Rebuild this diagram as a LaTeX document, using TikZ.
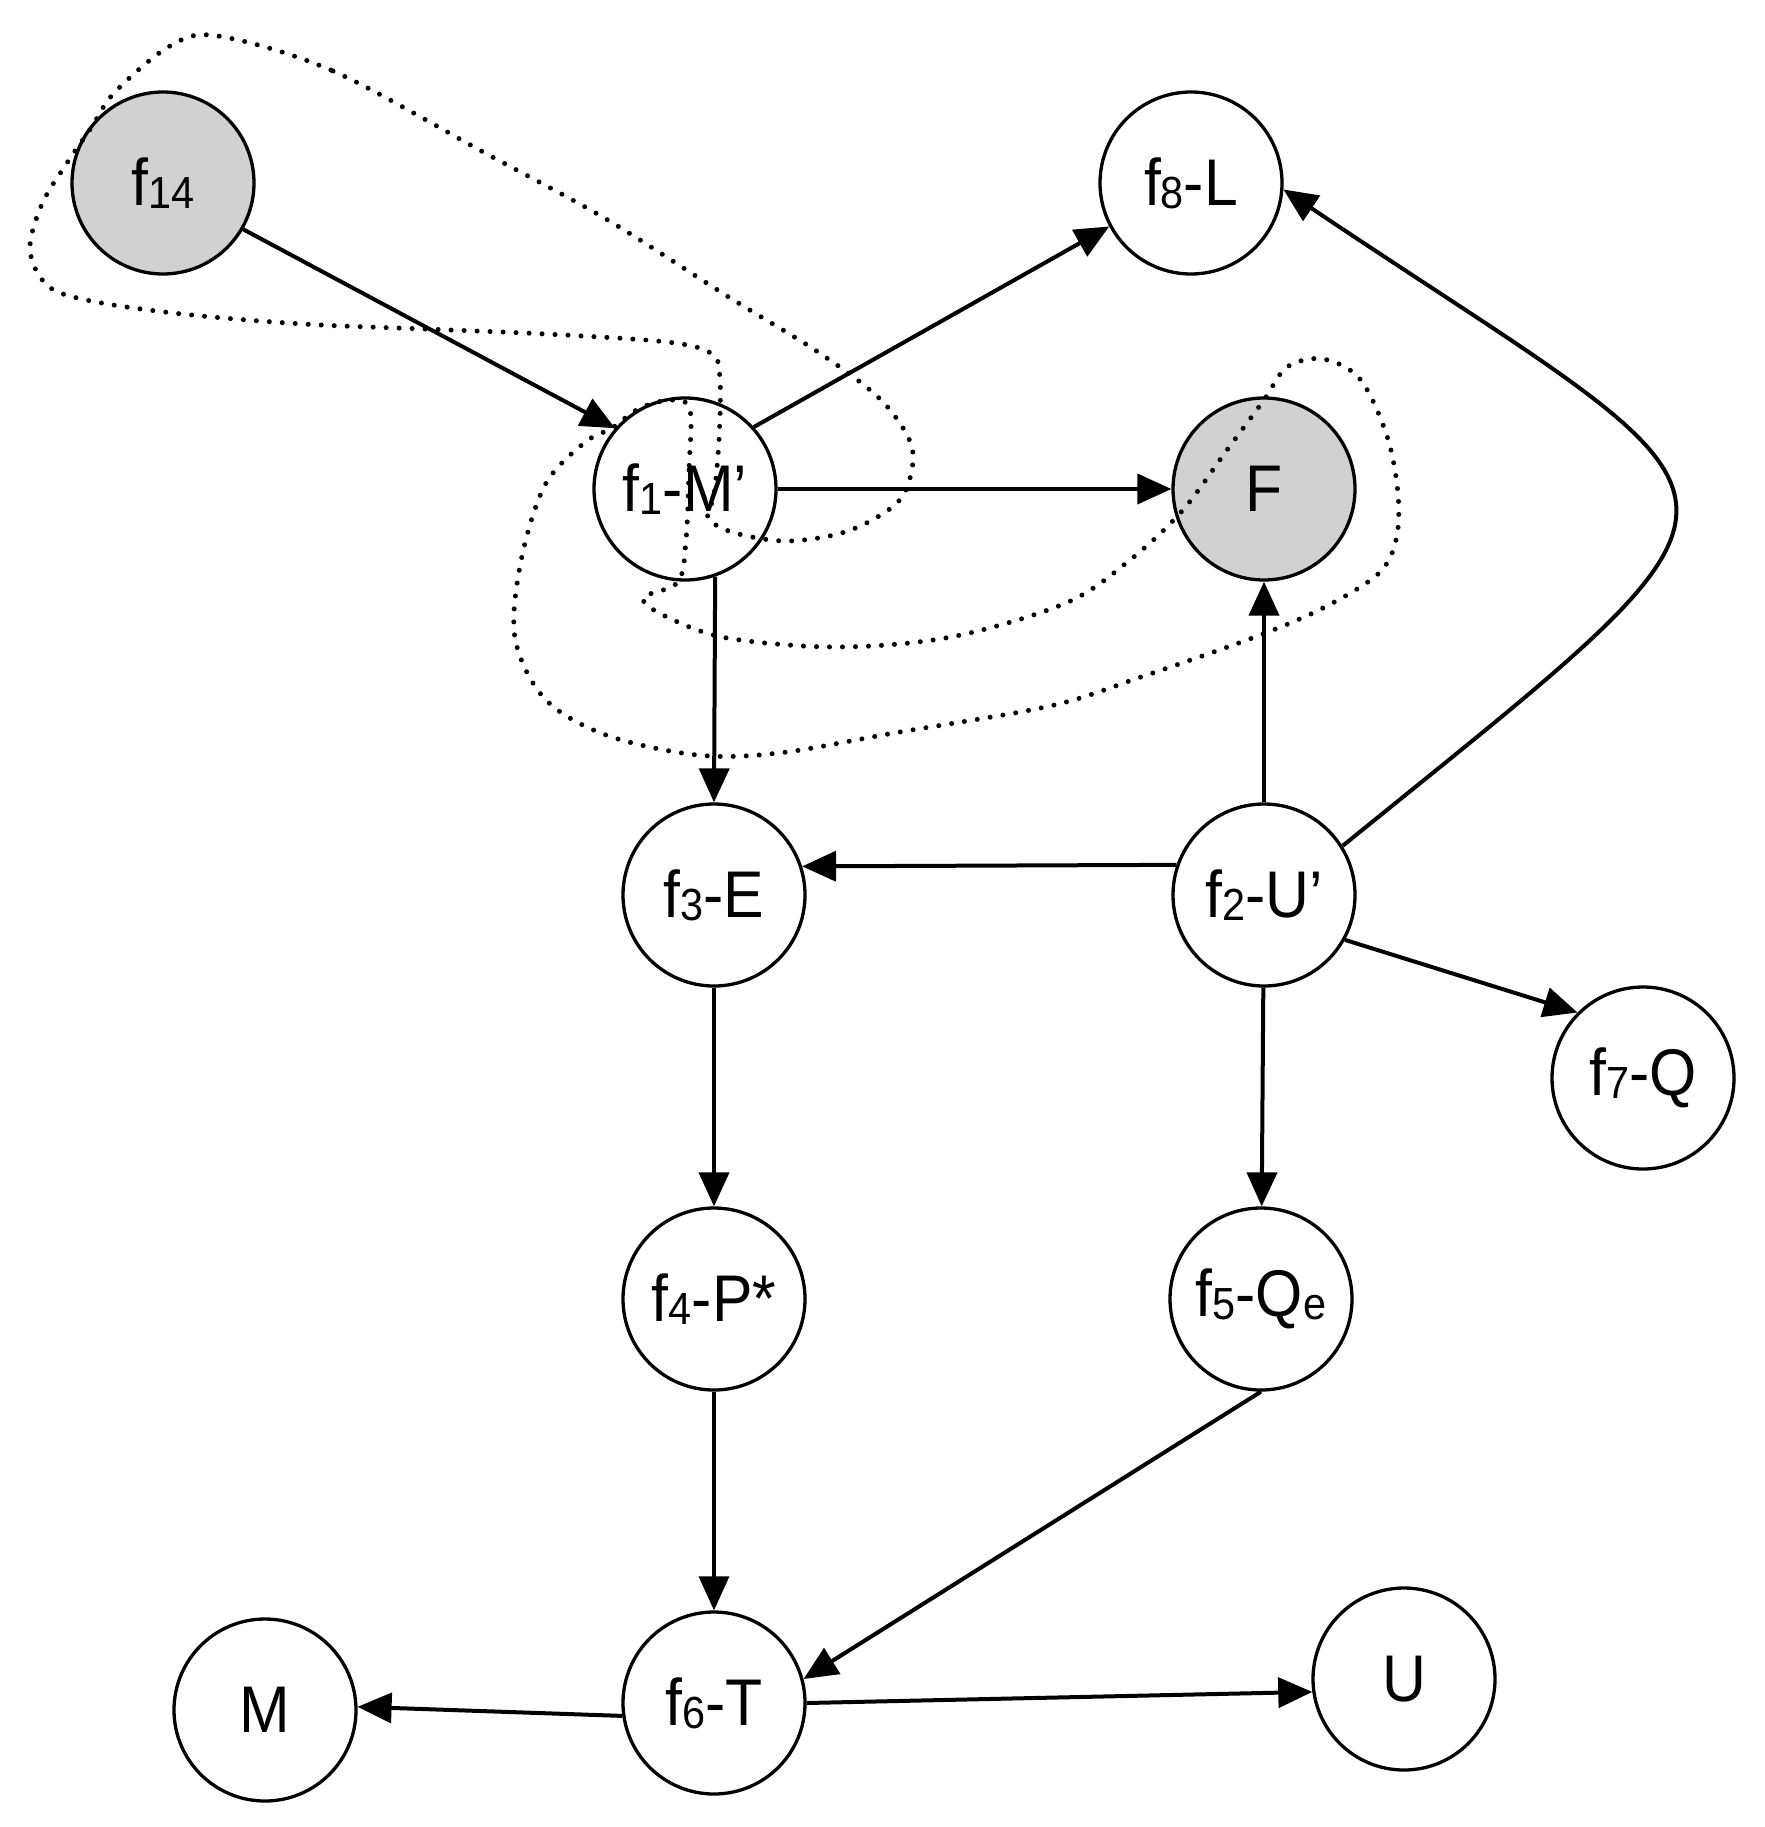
\documentclass[tikz,border=0pt]{standalone}
\usepackage{fontspec}
\setmainfont{Liberation Sans}[FakeStretch=0.92]
\usetikzlibrary{arrows.meta}
\newcommand\lsub[1]{\raisebox{-0.05em}{\fontsize{45}{45}\selectfont #1}}
\begin{document}
\begin{tikzpicture}[x=1pt,y=-1pt,
  nd/.style={circle, draw, line width=3.3pt, minimum size=182pt, inner sep=0pt, fill=white, font=\fontsize{66}{66}\selectfont},
  gr/.style={nd, fill=black!18},
  arr/.style={line width=4pt, -{Triangle[length=34pt,width=30pt]}},
  dotline/.style={line width=5pt, dash pattern=on 0pt off 13pt, line cap=round}]
\useasboundingbox (0,0) rectangle (1764,1827);
\node[gr] (f14) at (163,183) {f\lsub{14}};
\node[nd] (f8) at (1191,183) {f\lsub{8}-L};
\node[nd] (f1) at (685,489) {f\lsub{1}-M’};
\node[gr] (F) at (1264,489) {F};
\node[nd] (f3) at (714,895) {f\lsub{3}-E};
\node[nd] (f2) at (1264,895) {f\lsub{2}-U’};
\node[nd] (f7) at (1643,1078) {f\lsub{7}-Q};
\node[nd] (f4) at (714,1299) {f\lsub{4}-P*};
\node[nd] (f5) at (1261,1299) {f\lsub{5}-Q\lsub{e}};
\node[nd] (f6) at (714,1703) {f\lsub{6}-T};
\node[nd] (M) at (265,1710) {M};
\node[nd] (U) at (1404,1679) {U};

\draw[arr] (f14.-30) -- (f1.139);
\draw[arr] (f1.42) -- (f8.208);
\draw[arr] (f1) -- (F);
\draw[arr] (f1.-71.4) -- (f3.north);
\draw[arr] (f2.161.4) -- (f3.18.6);
\draw[arr] (f2) -- (F);
\draw[arr] (f2.32) .. controls (1806,470) and (1779,522) .. (f8.-4);
\draw[arr] (f2.-29) -- (f7.135);
\draw[arr] (f3) -- (f4);
\draw[arr] (f2) -- (f5);
\draw[arr, line width=3.4pt] (f4) -- (f6);
\draw[arr] (f5.-90) -- (f6.15);
\draw[arr] (f6.188) -- (M.2);
\draw[arr] (f6.0) -- (U.188);

% loop around f14 and f1
\draw[dotline] plot[smooth cycle, tension=0.55] coordinates {
(218,36) (333,71) (485,153) (606,219) (727,296) (818,352) (879,398) (909,439)
(912,469) (897,503) (848,531) (788,541) (735,533) (708,518) (714,495) (719,440)
(720,380) (712,354) (667,342) (545,334) (424,329) (303,324) (182,314) (91,301)
(48,286) (30,250) (42,204) (67,163) (91,128) (115,92) (170,46)};

% loop around f1 and F
\draw[dotline] plot[smooth cycle, tension=0.55] coordinates {
(690,410) (689,470) (686,540) (678,582) (643,598) (667,617) (727,638) (837,647)
(951,637) (1066,603) (1130,560) (1182,511) (1227,450) (1264,400) (1287,367)
(1323,359) (1360,379) (1387,436) (1398,494) (1396,540) (1378,574) (1323,608)
(1255,637) (1141,677) (1050,706) (894,733) (779,753) (697,755) (606,735)
(545,699) (515,638) (521,561) (545,485) (584,443) (612,428) (640,408) (672,400)};
\end{tikzpicture}
\end{document}
